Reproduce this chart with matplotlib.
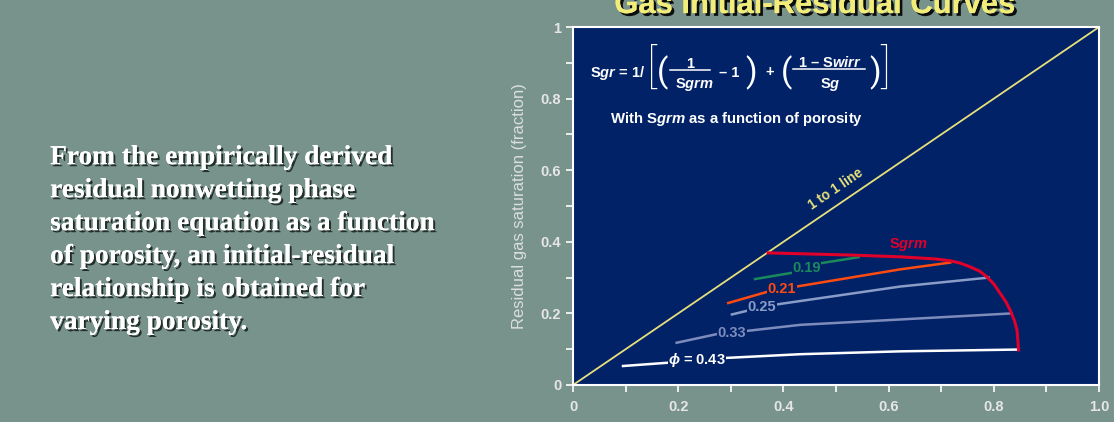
import numpy as np
import matplotlib
matplotlib.use('Agg')
import matplotlib.pyplot as plt
import matplotlib.patheffects as pe

# --- data ---
phi_labels = ['0.19', '0.21', '0.25', '0.33', r'$\phi$ = 0.43']

sgi_019 = [0.346, 0.419, 0.470, 0.543]
sgr_019 = [0.296, 0.314, 0.340, 0.357]

sgi_021 = [0.295, 0.371, 0.425, 0.622, 0.717]
sgr_021 = [0.229, 0.261, 0.275, 0.323, 0.342]

sgi_025 = [0.302, 0.330, 0.387, 0.622, 0.790]
sgr_025 = [0.197, 0.207, 0.225, 0.275, 0.300]

sgi_033 = [0.197, 0.273, 0.330, 0.432, 0.622, 0.834]
sgr_033 = [0.118, 0.142, 0.151, 0.168, 0.183, 0.200]

sgi_043 = [0.095, 0.188, 0.283, 0.432, 0.622, 0.846]
sgr_043 = [0.053, 0.063, 0.075, 0.086, 0.094, 0.099]

sgrm_x = [0.371, 0.527, 0.622, 0.690, 0.717, 0.735, 0.755, 0.773, 0.786, 0.800, 0.812, 0.823, 0.831, 0.839, 0.844, 0.847]
sgrm_y = [0.369, 0.363, 0.358, 0.352, 0.347, 0.341, 0.330, 0.318, 0.303, 0.282, 0.256, 0.232, 0.209, 0.180, 0.154, 0.098]

label_pos = [(0.444, 0.328), (0.397, 0.267), (0.359, 0.217), (0.302, 0.146), (0.236, 0.070)]

xticks = [0, 0.2, 0.4, 0.6, 0.8, 1.0]
xticklabels = ['0', '0.2', '0.4', '0.6', '0.8', '1.0']
yticks = [0, 0.2, 0.4, 0.6, 0.8, 1.0]
yticklabels = ['0', '0.2', '0.4', '0.6', '0.8', '1']

bg = '#78928c'
navy = '#022268'
tick_col = '#e6e6e6'
yellow = '#e8e07a'

plt.rcParams['font.family'] = ['Liberation Sans', 'DejaVu Sans']
plt.rcParams['mathtext.fontset'] = 'custom'
plt.rcParams['mathtext.rm'] = 'Liberation Sans:bold'
plt.rcParams['mathtext.it'] = 'Liberation Sans:italic:bold'
plt.rcParams['mathtext.bf'] = 'Liberation Sans:bold'

fig = plt.figure(figsize=(11.14, 4.22), dpi=100, facecolor=bg)
ax = fig.add_axes([0.5144, 0.0877, 0.4722, 0.8483])
ax.set_facecolor(navy)
ax.set_xlim(0, 1)
ax.set_ylim(0, 1)

def at(px, py):
    # pixel position in the picture -> axes fraction
    return (px - 573) / 526.0, (385 - py) / 358.0

# 1:1 line
ax.plot([0, 1], [0, 1], color=yellow, lw=1.3, zorder=2)
ax.text(0.499, 0.548, '1 to 1 line', rotation=34.2, color=yellow, fontsize=9.8,
        fontweight='bold', ha='center', va='center', rotation_mode='anchor')

curves = [(sgi_019, sgr_019, '#1a8a5c'),
          (sgi_021, sgr_021, '#ff4a10'),
          (sgi_025, sgr_025, '#8a9cc8'),
          (sgi_033, sgr_033, '#7e8cbc'),
          (sgi_043, sgr_043, 'white')]
for (xs, ys, c), lab, (lx, ly) in zip(curves, phi_labels, label_pos):
    ax.plot(xs, ys, color=c, lw=1.8, zorder=3)
    ax.text(lx, ly, lab, color=c, fontsize=10.5, fontweight='bold', ha='center', va='center',
            zorder=5, bbox=dict(facecolor=navy, edgecolor='none', pad=0.3))

ax.plot(sgrm_x, sgrm_y, color='#e0002a', lw=2.2, zorder=4)
ax.text(0.600, 0.392, r'$\mathrm{S}\mathit{grm}$', color='#e0002a', fontsize=10.5,
        ha='left', va='center')

# equation, set piece by piece
eq_kw = dict(color='white', fontsize=10.5, fontweight='bold', transform=ax.transAxes, va='baseline')
ax.text(*at(590, 77), r'$\mathrm{S}\mathit{gr}$ = 1/', ha='left', **eq_kw)
ax.text(*at(690, 68), '1', ha='center', **eq_kw)
ax.text(*at(694, 88), r'$\mathrm{S}\mathit{grm}$', ha='center', **eq_kw)
ax.text(*at(729, 77), '\u2013 1', ha='center', **eq_kw)
ax.text(*at(770, 76), '+', ha='center', **eq_kw)
ax.text(*at(830, 67), r'1 $\endash$ $\mathrm{S}\mathit{wirr}$', ha='center', **eq_kw)
ax.text(*at(830, 88), r'$\mathrm{S}\mathit{g}$', ha='center', **eq_kw)
for x0, x1, y in [(670, 710, 70), (793, 865, 69)]:
    (ax0, ay), (ax1, _) = at(x0, y), at(x1, y)
    ax.plot([ax0, ax1], [ay, ay], color='white', lw=1.1, transform=ax.transAxes, clip_on=False)

br_kw = dict(color='white', transform=ax.transAxes, va='center', ha='center',
             family=['Roboto', 'Liberation Sans'], fontweight='light')
ax.text(*at(652, 68), '[', fontsize=33, **br_kw)
ax.text(*at(885, 68), ']', fontsize=33, **br_kw)
par_kw = dict(color='white', transform=ax.transAxes, va='center', ha='center',
              family=['Roboto', 'Liberation Sans'], fontweight='normal', fontsize=24)
ax.text(*at(663, 73), '(', **par_kw)
ax.text(*at(751, 73), ')', **par_kw)
ax.text(*at(787, 73), '(', **par_kw)
ax.text(*at(875, 73), ')', **par_kw)

ax.text(*at(610, 119), r'With $\mathrm{S}\mathit{grm}$ as a function of porosity', color='white',
        fontsize=10.7, fontweight='bold', ha='left', va='center', transform=ax.transAxes)

ax.set_xticks(xticks)
ax.set_xticklabels(xticklabels)
ax.set_yticks(yticks)
ax.set_yticklabels(yticklabels)
ax.set_xticks(np.arange(0.1, 1.0, 0.2), minor=True)
ax.set_yticks(np.arange(0.1, 1.0, 0.2), minor=True)
ax.tick_params(which='both', colors='white', length=5, width=1.2, labelcolor=tick_col,
               labelsize=10.5)
ax.tick_params(axis='x', pad=5.5)
for lab in ax.get_xticklabels() + ax.get_yticklabels():
    lab.set_fontweight('bold')
for s in ax.spines.values():
    s.set_color('white')
    s.set_linewidth(1.5)

ax.set_ylabel('Residual gas saturation (fraction)', color='#dcdfdf', fontsize=12)
ax.yaxis.set_label_coords(-0.0875, 0.5)

shadow = [pe.withSimplePatchShadow(offset=(2, -2), shadow_rgbFace='black', alpha=0.9), pe.Normal()]
fig.text(0.7316, 0.969, 'Gas Initial-Residual Curves', color='#f2ec78', fontsize=22.3,
         fontweight='bold', ha='center', va='baseline', path_effects=shadow)

body = ('From the empirically derived\nresidual nonwetting phase\n'
        'saturation equation as a function\nof porosity, an initial-residual\n'
        'relationship is obtained for\nvarying porosity.')
shadow2 = [pe.withSimplePatchShadow(offset=(1.5, -1.5), shadow_rgbFace='#1a2420', alpha=0.9), pe.Normal()]
fig.text(0.045, 0.656, body, color='white', fontsize=19.7, fontweight='bold',
         family='Liberation Serif', ha='left', va='top', linespacing=1.42,
         path_effects=shadow2)

fig.savefig('out.png', dpi=100, facecolor=bg)
